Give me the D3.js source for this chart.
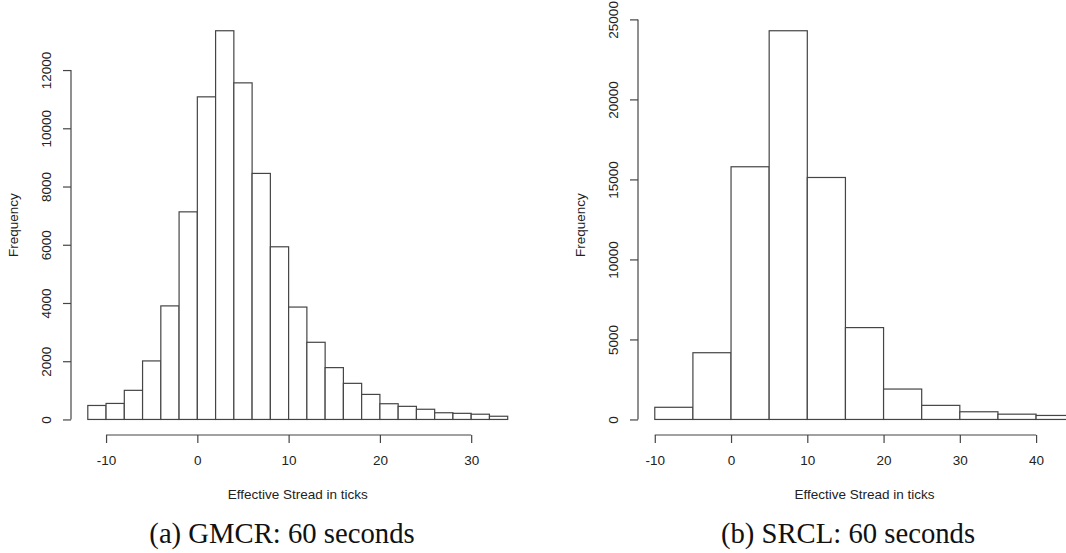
<!DOCTYPE html>
<html>
<head>
<meta charset="utf-8">
<script src="https://cdn.jsdelivr.net/npm/d3@7"></script>
<style>
  html, body { margin: 0; padding: 0; background: #fff; }
  svg { display: block; }
  .tick text, .lbl { font-family: "Liberation Sans", Arial, sans-serif; font-size: 13.5px; fill: #222; }
  .cap { font-family: "Liberation Serif", "Times New Roman", serif; font-size: 28.7px; fill: #111; }
</style>
</head>
<body>
<svg id="fig" width="1066" height="553"></svg>
<script>
// GMCR: effective spread histogram, 2-tick bins
const gmcrEdges = [-12, -10, -8, -6, -4, -2, 0, 2, 4, 6, 8, 10, 12, 14, 16, 18, 20, 22, 24, 26, 28, 30, 32, 34];
const gmcrCounts = [480, 550, 1000, 2010, 3900, 7130, 11080, 13350, 11560, 8450, 5930, 3860,
                    2650, 1780, 1240, 860, 540, 450, 350, 230, 210, 180, 110];
const gmcrXTicks = [-10, 0, 10, 20, 30];
const gmcrYTicks = [0, 2000, 4000, 6000, 8000, 10000, 12000];

// SRCL: effective spread histogram, 5-tick bins
const srclEdges = [-10, -5, 0, 5, 10, 15, 20, 25, 30, 35, 40, 45];
const srclCounts = [760, 4170, 15790, 24290, 15120, 5740, 1900, 880, 480, 330, 250];
const srclXTicks = [-10, 0, 10, 20, 30, 40];
const srclYTicks = [0, 5000, 10000, 15000, 20000, 25000];

const xTitle = "Effective Stread in ticks";
const yTitle = "Frequency";

const svg = d3.select("#fig");
const stroke = "#454545";

// R-style range padding of 4% on each side
function padded(lo, hi) {
  const d = (hi - lo) * 0.04;
  return [lo - d, hi + d];
}

function histogram(opts) {
  const { edges, counts, xTicks, yTicks, left, width, top, bottom } = opts;
  const x = d3.scaleLinear()
    .domain(padded(edges[0], edges[edges.length - 1]))
    .range([left, left + width]);
  const y = d3.scaleLinear()
    .domain(padded(0, d3.max(counts)))
    .range([bottom, top]);

  const g = svg.append("g");

  // bars
  const bins = counts.map((c, i) => ({ x0: edges[i], x1: edges[i + 1], c }));
  g.append("g").selectAll("rect").data(bins).join("rect")
    .attr("x", d => x(d.x0))
    .attr("width", d => x(d.x1) - x(d.x0))
    .attr("y", d => y(d.c))
    .attr("height", d => y(0) - y(d.c))
    .attr("fill", "#fff")
    .attr("stroke", stroke)
    .attr("stroke-width", 1.2);

  // x axis along the bottom of the plot region, spanning first to last tick
  const gx = g.append("g")
    .attr("transform", `translate(0,${bottom})`)
    .call(d3.axisBottom(x).tickValues(xTicks).tickSize(8).tickFormat(d3.format("d")));
  gx.select(".domain").remove();
  gx.append("line")
    .attr("x1", x(xTicks[0])).attr("x2", x(xTicks[xTicks.length - 1]))
    .attr("stroke", stroke).attr("stroke-width", 1.2);
  gx.selectAll(".tick line").attr("stroke", stroke).attr("stroke-width", 1.2);
  gx.selectAll(".tick text").attr("y", 30).attr("dy", null)
    .text(d => d < 0 ? "-" + Math.abs(d) : d);

  // y axis with rotated labels
  const gy = g.append("g")
    .attr("transform", `translate(${left},0)`)
    .call(d3.axisLeft(y).tickValues(yTicks).tickSize(8).tickFormat(d3.format("d")));
  gy.select(".domain").remove();
  gy.append("line")
    .attr("y1", y(yTicks[0])).attr("y2", y(yTicks[yTicks.length - 1]))
    .attr("stroke", stroke).attr("stroke-width", 1.2);
  gy.selectAll(".tick line").attr("stroke", stroke).attr("stroke-width", 1.2);
  gy.selectAll(".tick text")
    .attr("transform", "rotate(-90)")
    .attr("x", 0).attr("y", -19.6).attr("dy", null)
    .attr("text-anchor", "middle");

  // axis titles
  g.append("text").attr("class", "lbl")
    .attr("x", left + width / 2).attr("y", 498.5)
    .attr("text-anchor", "middle").text(xTitle);
  g.append("text").attr("class", "lbl")
    .attr("transform", `translate(${left - 53.5},${(top + bottom) / 2}) rotate(-90)`)
    .attr("text-anchor", "middle").text(yTitle);
}

histogram({ edges: gmcrEdges, counts: gmcrCounts, xTicks: gmcrXTicks, yTicks: gmcrYTicks,
            left: 71, width: 453.5, top: 15.2, bottom: 435 });
histogram({ edges: srclEdges, counts: srclCounts, xTicks: srclXTicks, yTicks: srclYTicks,
            left: 638, width: 453, top: 15.2, bottom: 435 });

// sub-figure captions
svg.append("text").attr("class", "cap").attr("x", 282).attr("y", 542.5)
  .attr("text-anchor", "middle").text("(a) GMCR: 60 seconds");
svg.append("text").attr("class", "cap").attr("x", 848).attr("y", 542.5)
  .attr("text-anchor", "middle").text("(b) SRCL: 60 seconds");
</script>
</body>
</html>
